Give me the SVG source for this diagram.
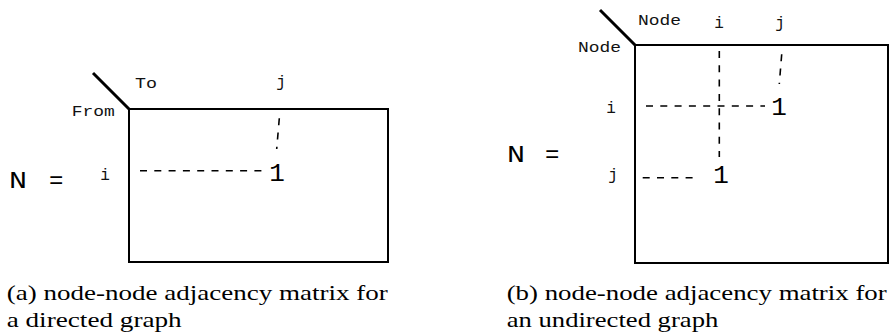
<svg xmlns="http://www.w3.org/2000/svg" width="889" height="334" viewBox="0 0 889 334">
<style>
.mat{fill:none;stroke:#000;stroke-width:2}
.diag{stroke:#000;stroke-width:3;stroke-linecap:butt}
.dash{stroke:#000;stroke-width:1.6;fill:none;stroke-dasharray:7 7.3}
.sm{font-family:"Liberation Mono","DejaVu Sans Mono",monospace;font-size:14px;fill:#111}
.idx{font-family:"Liberation Mono","DejaVu Sans Mono",monospace;font-size:16px;fill:#111;text-anchor:middle}
.one{font-family:"Liberation Mono","DejaVu Sans Mono",monospace;font-size:26px;fill:#000;text-anchor:middle}
.big{font-family:"Liberation Mono","DejaVu Sans Mono",monospace;font-size:24px;fill:#000}
.cap{font-family:"Liberation Serif","DejaVu Serif",serif;font-size:22px;fill:#000}
</style>
<g id="matrixA">
<rect class="mat" x="129" y="109" width="259" height="153"/>
<line class="diag" x1="93" y1="73" x2="129" y2="109"/>
<text class="sm" x="135" y="88.3" textLength="22" lengthAdjust="spacingAndGlyphs">To</text>
<text class="sm" x="71.7" y="116" textLength="43" lengthAdjust="spacingAndGlyphs">From</text>
<text class="idx" x="281" y="87">j</text>
<text class="idx" x="105" y="179.5">i</text>
<text class="big" x="9" y="187.5" textLength="18" lengthAdjust="spacingAndGlyphs">N</text>
<text class="big" x="49" y="187.5">=</text>
<text class="one" x="277" y="180.7">1</text>
</g>
<g id="matrixB">
<rect class="mat" x="635" y="45" width="253" height="218"/>
<line class="diag" x1="600" y1="10" x2="635" y2="45"/>
<text class="sm" x="638" y="25" textLength="43" lengthAdjust="spacingAndGlyphs">Node</text>
<text class="sm" x="578" y="51.7" textLength="43" lengthAdjust="spacingAndGlyphs">Node</text>
<text class="idx" x="719" y="28">i</text>
<text class="idx" x="780" y="28">j</text>
<text class="idx" x="611" y="113">i</text>
<text class="idx" x="613" y="180">j</text>
<text class="big" x="507" y="161.7" textLength="18" lengthAdjust="spacingAndGlyphs">N</text>
<text class="big" x="545" y="161.7">=</text>
<text class="one" x="779" y="115">1</text>
<text class="one" x="721" y="183.3">1</text>
</g>
<g id="connectors">
<path class="dash" d="M140 170.7H262"/>
<path class="dash" d="M279.3 118.3L276.7 149"/>
<path class="dash" d="M646 106H765"/>
<path class="dash" d="M719.3 51V157"/>
<path class="dash" d="M781.7 54.3L779.3 84"/>
<path class="dash" d="M642.7 177.7H693"/>
</g>
<g id="captions">
<text class="cap" x="6.7" y="300" textLength="381" lengthAdjust="spacingAndGlyphs">(a) node-node adjacency matrix for</text>
<text class="cap" x="6.7" y="326.7" textLength="175" lengthAdjust="spacingAndGlyphs">a directed graph</text>
<text class="cap" x="506.7" y="300" textLength="380" lengthAdjust="spacingAndGlyphs">(b) node-node adjacency matrix for</text>
<text class="cap" x="506.7" y="326.7" textLength="211.6" lengthAdjust="spacingAndGlyphs">an undirected graph</text>
</g>
</svg>
